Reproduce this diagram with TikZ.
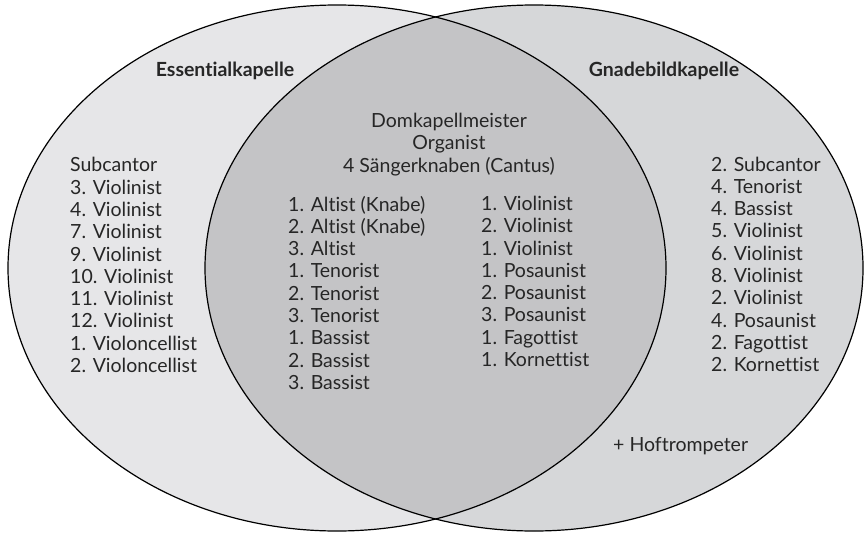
\documentclass[tikz,border=0pt]{standalone}
\usepackage{fontspec}
\setmainfont{Lato}[Ligatures=CommonOff]
\usepackage{xcolor}
\definecolor{essfill}{HTML}{E6E6E8}
\definecolor{gnafill}{HTML}{D6D7D9}
\definecolor{domfill}{HTML}{C4C4C6}
\definecolor{txtgray}{HTML}{262626}
\tikzset{
  kapelle/.style={draw=black,line width=1.2pt},
  liste/.style={align=left,anchor=base west,inner sep=0pt,text=txtgray,
    font=\fontsize{19.5}{22.3}\selectfont},
  titel/.style={anchor=base,inner sep=0pt,text=txtgray,
    font=\fontsize{19.5}{22.3}\selectfont\bfseries},
}

\begin{document}
\begin{tikzpicture}[x=1pt,y=-1pt]
\useasboundingbox (0,0) rectangle (866,535);

% the two chapels
\fill[essfill] (337,268) ellipse [x radius=329,y radius=263];
\fill[gnafill] (534,268) ellipse [x radius=329,y radius=263];
\begin{scope}
  \clip (337,268) ellipse [x radius=329,y radius=263];
  \fill[domfill] (534,268) ellipse [x radius=329,y radius=263];
\end{scope}
\draw[kapelle] (337,268) ellipse [x radius=329,y radius=263];
\draw[kapelle] (534,268) ellipse [x radius=329,y radius=263];

\node[titel] (ess) at (225,76) {Essentialkapelle};
\node[titel] (gna) at (664,76) {Gnadebildkapelle};

% multi-line nodes sit on the baseline of their last line
\node[titel,font=\fontsize{19.5}{22.3}\selectfont,align=center] (dom) at (449,172)
  {Domkapellmeister\\Organist\\4 Sängerknaben (Cantus)};

\node[liste] (esslist) at (70,372.5)
  {Subcantor\\3. Violinist\\4. Violinist\\7. Violinist\\9. Violinist\\
   10. Violinist\\11. Violinist\\12. Violinist\\1. Violoncellist\\2. Violoncellist};

\node[liste] (sing) at (288,389.4)
  {1. Altist (Knabe)\\2. Altist (Knabe)\\3. Altist\\1. Tenorist\\2. Tenorist\\
   3. Tenorist\\1. Bassist\\2. Bassist\\3. Bassist};

\node[liste] (instr) at (481,366.5)
  {1. Violinist\\2. Violinist\\1. Violinist\\1. Posaunist\\2. Posaunist\\
   3. Posaunist\\1. Fagottist\\1. Kornettist};

\node[liste] (gnalist) at (711,371.7)
  {2. Subcantor\\4. Tenorist\\4. Bassist\\5. Violinist\\6. Violinist\\
   8. Violinist\\2. Violinist\\4. Posaunist\\2. Fagottist\\2. Kornettist};

\node[liste] (hof) at (613,451) {+ Hoftrompeter};
\end{tikzpicture}
\end{document}
